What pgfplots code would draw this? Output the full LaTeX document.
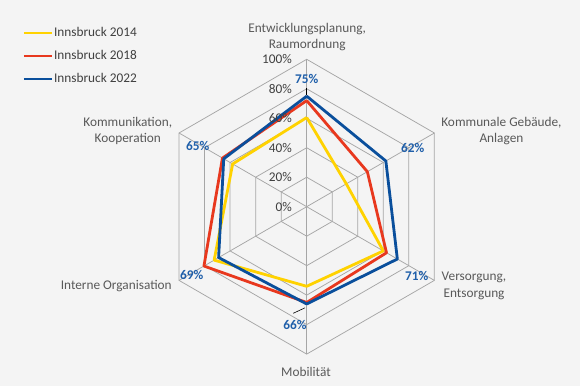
\documentclass[border=0pt]{standalone}
\usepackage{pgfplots}
\pgfplotsset{compat=1.18}
\usepackage{fontspec}
\setmainfont{Carlito}
\definecolor{bg}{HTML}{F4F4F4}
\definecolor{gridc}{HTML}{A6A6A6}
\definecolor{c14}{HTML}{FFD200}
\definecolor{c18}{HTML}{E8381E}
\definecolor{c22}{HTML}{0A4F9C}
\definecolor{lab}{HTML}{1F5FAA}
\definecolor{cat}{HTML}{595959}
\definecolor{txt}{HTML}{404040}
\newcommand\f{\fontsize{13.3bp}{16.5bp}\selectfont}
\begin{document}
\begin{tikzpicture}[x=1bp,y=1bp]
\fill[bg] (0,0) rectangle (580,386);
\begin{axis}[
  at={(0,0)}, anchor=south west,
  width=580bp, height=386bp, scale only axis,
  xmin=-208.07, xmax=185.41, ymin=-121.64, ymax=140.23,
  hide axis, clip=false, no markers,
  legend image code/.code={\draw[#1,line width=2.8bp] (0bp,0bp) -- (28bp,0bp);},
  legend style={at={(0.03845,0.93187)}, anchor=north west, draw=none, fill=none,
    font=\f, text=txt, inner sep=0pt, row sep=10bp, column sep=0.8bp,
    nodes={inner sep=0pt, text height=10bp, text depth=3bp}},
  legend cell align=left,
]
% grid
\addplot[gridc, line width=0.75bp, data cs=polar, forget plot] coordinates {(90,20)(30,20)(-30,20)(-90,20)(-150,20)(150,20)(90,20)};
\addplot[gridc, line width=0.75bp, data cs=polar, forget plot] coordinates {(90,40)(30,40)(-30,40)(-90,40)(-150,40)(150,40)(90,40)};
\addplot[gridc, line width=0.75bp, data cs=polar, forget plot] coordinates {(90,60)(30,60)(-30,60)(-90,60)(-150,60)(150,60)(90,60)};
\addplot[gridc, line width=0.75bp, data cs=polar, forget plot] coordinates {(90,80)(30,80)(-30,80)(-90,80)(-150,80)(150,80)(90,80)};
\addplot[gridc, line width=0.75bp, data cs=polar, forget plot] coordinates {(90,100)(30,100)(-30,100)(-90,100)(-150,100)(150,100)(90,100)};
\addplot[gridc, line width=0.75bp, data cs=polar, forget plot] coordinates {(90,0)(90,100)};
\addplot[gridc, line width=0.75bp, data cs=polar, forget plot] coordinates {(30,0)(30,100)};
\addplot[gridc, line width=0.75bp, data cs=polar, forget plot] coordinates {(-30,0)(-30,100)};
\addplot[gridc, line width=0.75bp, data cs=polar, forget plot] coordinates {(-90,0)(-90,100)};
\addplot[gridc, line width=0.75bp, data cs=polar, forget plot] coordinates {(-150,0)(-150,100)};
\addplot[gridc, line width=0.75bp, data cs=polar, forget plot] coordinates {(150,0)(150,100)};
% data
\addplot[c14, line width=2.8bp, line join=round, data cs=polar] coordinates {(90,60.5)(30,31)(-30,60)(-90,54)(-150,72.5)(150,58)(90,60.5)};
\addplot[c18, line width=2.8bp, line join=round, data cs=polar] coordinates {(90,72)(30,47.5)(-30,62.5)(-90,65)(-150,80.5)(150,66)(90,72)};
\addplot[c22, line width=2.8bp, line join=round, data cs=polar] coordinates {(90,75)(30,62)(-30,71)(-90,66)(-150,69)(150,65)(90,75)};
\legend{Innsbruck 2014, Innsbruck 2018, Innsbruck 2022}
% leader lines
\draw[black, line width=0.6bp] (axis cs:0,80.4) -- (axis cs:0,76);
\draw[black, line width=0.6bp] (axis cs:-9.1,-72.3) -- (axis cs:-1.2,-68.6);
% radial tick labels
\node[anchor=east, inner sep=0pt, font=\f, text=txt] at (axis cs:-10,0) {0\%};
\node[anchor=east, inner sep=0pt, font=\f, text=txt] at (axis cs:-10,20) {20\%};
\node[anchor=east, inner sep=0pt, font=\f, text=txt] at (axis cs:-10,40) {40\%};
\node[anchor=east, inner sep=0pt, font=\f, text=txt] at (axis cs:-10,60) {60\%};
\node[anchor=east, inner sep=0pt, font=\f, text=txt] at (axis cs:-10,80) {80\%};
\node[anchor=east, inner sep=0pt, font=\f, text=txt] at (axis cs:-10,100) {100\%};
% category labels
\node[align=center, font=\f, text=cat] at (axis cs:0.34,115.1) {Entwicklungsplanung,\\Raumordnung};
\node[align=center, font=\f, text=cat] at (axis cs:132.1,51.4) {Kommunale Gebäude,\\Anlagen};
\node[align=center, font=\f, text=cat] at (axis cs:113.5,-53.6) {Versorgung,\\Entsorgung};
\node[align=center, font=\f, text=cat] at (axis cs:-0.5,-112.1) {Mobilität};
\node[align=center, font=\f, text=cat] at (axis cs:-129.2,-53.8) {Interne Organisation};
\node[align=center, font=\f, text=cat] at (axis cs:-121.4,51.5) {Kommunikation,\\Kooperation};
% data labels
\node[font=\f\bfseries, text=lab] at (axis cs:0,86.4) {75\%};
\node[font=\f\bfseries, text=lab] at (axis cs:71.9,39.6) {62\%};
\node[font=\f\bfseries, text=lab] at (axis cs:74.6,-47.0) {71\%};
\node[font=\f\bfseries, text=lab] at (axis cs:-7.9,-80.3) {66\%};
\node[font=\f\bfseries, text=lab] at (axis cs:-78.0,-46.3) {69\%};
\node[font=\f\bfseries, text=lab] at (axis cs:-73.9,41.2) {65\%};
\end{axis}
\pgfresetboundingbox
\path[use as bounding box] (0,0) rectangle (580,386);
\end{tikzpicture}
\end{document}
